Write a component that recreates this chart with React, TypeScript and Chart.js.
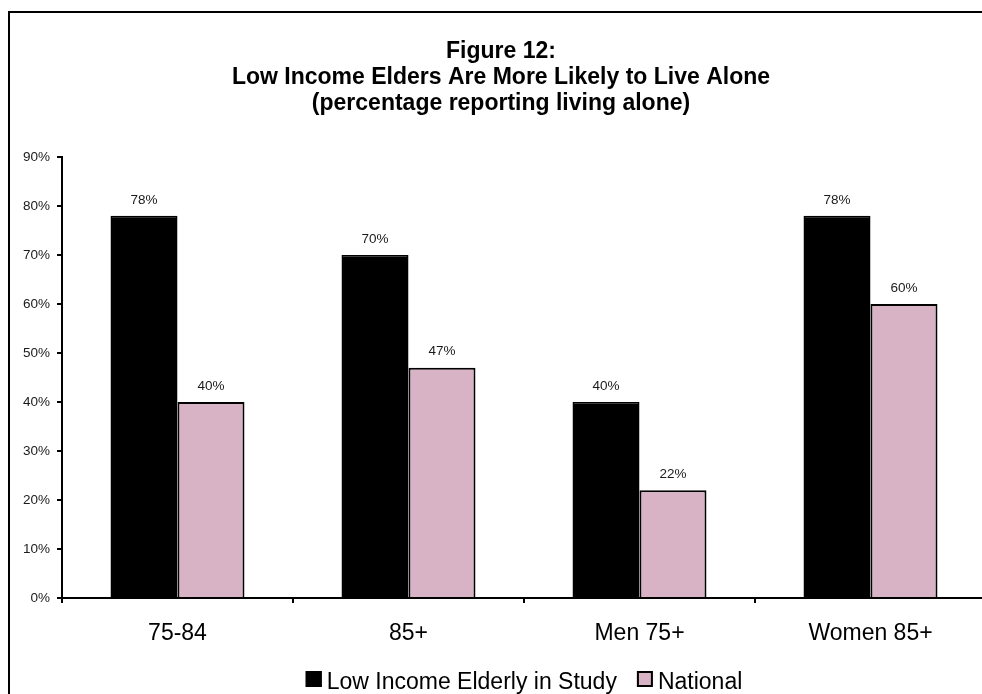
import React, { useEffect, useRef } from "react";
import { Chart, registerables } from "chart.js";

Chart.register(...registerables);

const categories = ["75-84", "85+", "Men 75+", "Women 85+"];
const studyValues = [78, 70, 40, 78];
const nationalValues = [40, 47, 22, 60];
const seriesNames = ["Low Income Elderly in Study", "National"];
const seriesColors = ["#000000", "#D8B2C5"];
const titleLines = [
  "Figure 12:",
  "Low Income Elders Are More Likely to Live Alone",
  "(percentage reporting living alone)",
];
const yMin = 0;
const yMax = 90;
const yStep = 10;

const FONT = "'Liberation Sans', Arial, Helvetica, sans-serif";
const CANVAS_W = 1000;
const CANVAS_H = 694;

// White page with the top and left edges of the chart frame.
const framePlugin = {
  id: "frame",
  beforeDraw(chart: any) {
    const ctx = chart.ctx;
    ctx.save();
    ctx.fillStyle = "#ffffff";
    ctx.fillRect(0, 0, chart.width, chart.height);
    ctx.strokeStyle = "#000000";
    ctx.lineWidth = 2;
    ctx.beginPath();
    ctx.moveTo(9, chart.height + 10);
    ctx.lineTo(9, 12);
    ctx.lineTo(chart.width + 10, 12);
    ctx.stroke();
    ctx.restore();
  },
};

// Percent value written above each bar.
const valueLabelPlugin = {
  id: "valueLabels",
  afterDatasetsDraw(chart: any) {
    const ctx = chart.ctx;
    ctx.save();
    ctx.font = `13.5px ${FONT}`;
    ctx.fillStyle = "#1a1a1a";
    ctx.textAlign = "center";
    ctx.textBaseline = "middle";
    chart.data.datasets.forEach((ds: any, di: number) => {
      const meta = chart.getDatasetMeta(di);
      meta.data.forEach((bar: any, i: number) => {
        ctx.fillText(`${ds.data[i]}%`, bar.x, bar.y - 16);
      });
    });
    ctx.restore();
  },
};

// Legend row under the category labels, centred on the plot area.
const legendPlugin = {
  id: "bottomLegend",
  afterDraw(chart: any) {
    const ctx = chart.ctx;
    const area = chart.chartArea;
    const box = 16;
    const gapText = 5;
    const gapItem = 20;
    const baseline = 689;
    ctx.save();
    ctx.font = `23px ${FONT}`;
    const items = chart.data.datasets.map((ds: any) => ({
      label: ds.label,
      fill: ds.backgroundColor,
      w: ctx.measureText(ds.label).width,
    }));
    const total =
      items.reduce((s: number, it: any) => s + box + gapText + it.w, 0) +
      gapItem * (items.length - 1);
    let x = (area.left + area.right) / 2 - total / 2;
    items.forEach((it: any) => {
      const top = baseline - 18;
      ctx.fillStyle = it.fill;
      ctx.fillRect(x, top, box, box);
      ctx.strokeStyle = "#000000";
      ctx.lineWidth = 2;
      ctx.strokeRect(x + 1, top + 1, box - 2, box - 2);
      ctx.fillStyle = "#000000";
      ctx.textAlign = "left";
      ctx.textBaseline = "alphabetic";
      ctx.fillText(it.label, x + box + gapText, baseline);
      x += box + gapText + it.w + gapItem;
    });
    ctx.restore();
  },
};

export default function App() {
  const canvasRef = useRef<HTMLCanvasElement | null>(null);

  useEffect(() => {
    const canvas = canvasRef.current;
    if (!canvas) return;
    const chart = new Chart(canvas, {
      type: "bar",
      data: {
        labels: categories,
        datasets: [
          {
            label: seriesNames[0],
            data: studyValues,
            backgroundColor: seriesColors[0],
            borderColor: "#000000",
            borderWidth: 1.5,
            categoryPercentage: 0.58,
            barPercentage: 1,
          },
          {
            label: seriesNames[1],
            data: nationalValues,
            backgroundColor: seriesColors[1],
            borderColor: "#000000",
            borderWidth: 2,
            categoryPercentage: 0.58,
            barPercentage: 1,
          },
        ],
      },
      options: {
        responsive: false,
        animation: false,
        devicePixelRatio: 1,
        layout: { padding: { left: 16, right: 14, top: 0, bottom: 0 } },
        plugins: {
          legend: { display: false },
          tooltip: { enabled: false },
          title: {
            display: true,
            text: titleLines,
            color: "#000000",
            font: { family: FONT, size: 23, weight: "bold", lineHeight: 26 / 23 },
            padding: { top: 39, bottom: 40 },
          },
        },
        scales: {
          x: {
            grid: {
              display: true,
              drawOnChartArea: false,
              drawTicks: true,
              tickLength: 5,
              color: "#000000",
              lineWidth: 2,
              offset: true,
            },
            border: { display: true, color: "#000000", width: 2 },
            ticks: {
              color: "#000000",
              font: { family: FONT, size: 23 },
              padding: 17,
              maxRotation: 0,
            },
            afterFit: (scale: any) => {
              scale.height = 96;
            },
          },
          y: {
            min: yMin,
            max: yMax,
            grid: {
              display: true,
              drawOnChartArea: false,
              drawTicks: true,
              tickLength: 5,
              color: "#000000",
              lineWidth: 2,
            },
            border: { display: true, color: "#000000", width: 2 },
            ticks: {
              stepSize: yStep,
              color: "#1a1a1a",
              font: { family: FONT, size: 13.5 },
              padding: 7,
              callback: (v: any) => `${v}%`,
            },
            afterFit: (scale: any) => {
              scale.width = 46;
            },
          },
        },
      },
      plugins: [framePlugin, valueLabelPlugin, legendPlugin],
    });
    return () => chart.destroy();
  }, []);

  return (
    <div
      style={{
        position: "fixed",
        left: 0,
        top: 0,
        width: 982,
        height: 694,
        overflow: "hidden",
        background: "#ffffff",
      }}
    >
      <canvas
        ref={canvasRef}
        width={CANVAS_W}
        height={CANVAS_H}
        style={{ display: "block", width: CANVAS_W, height: CANVAS_H }}
      />
    </div>
  );
}
